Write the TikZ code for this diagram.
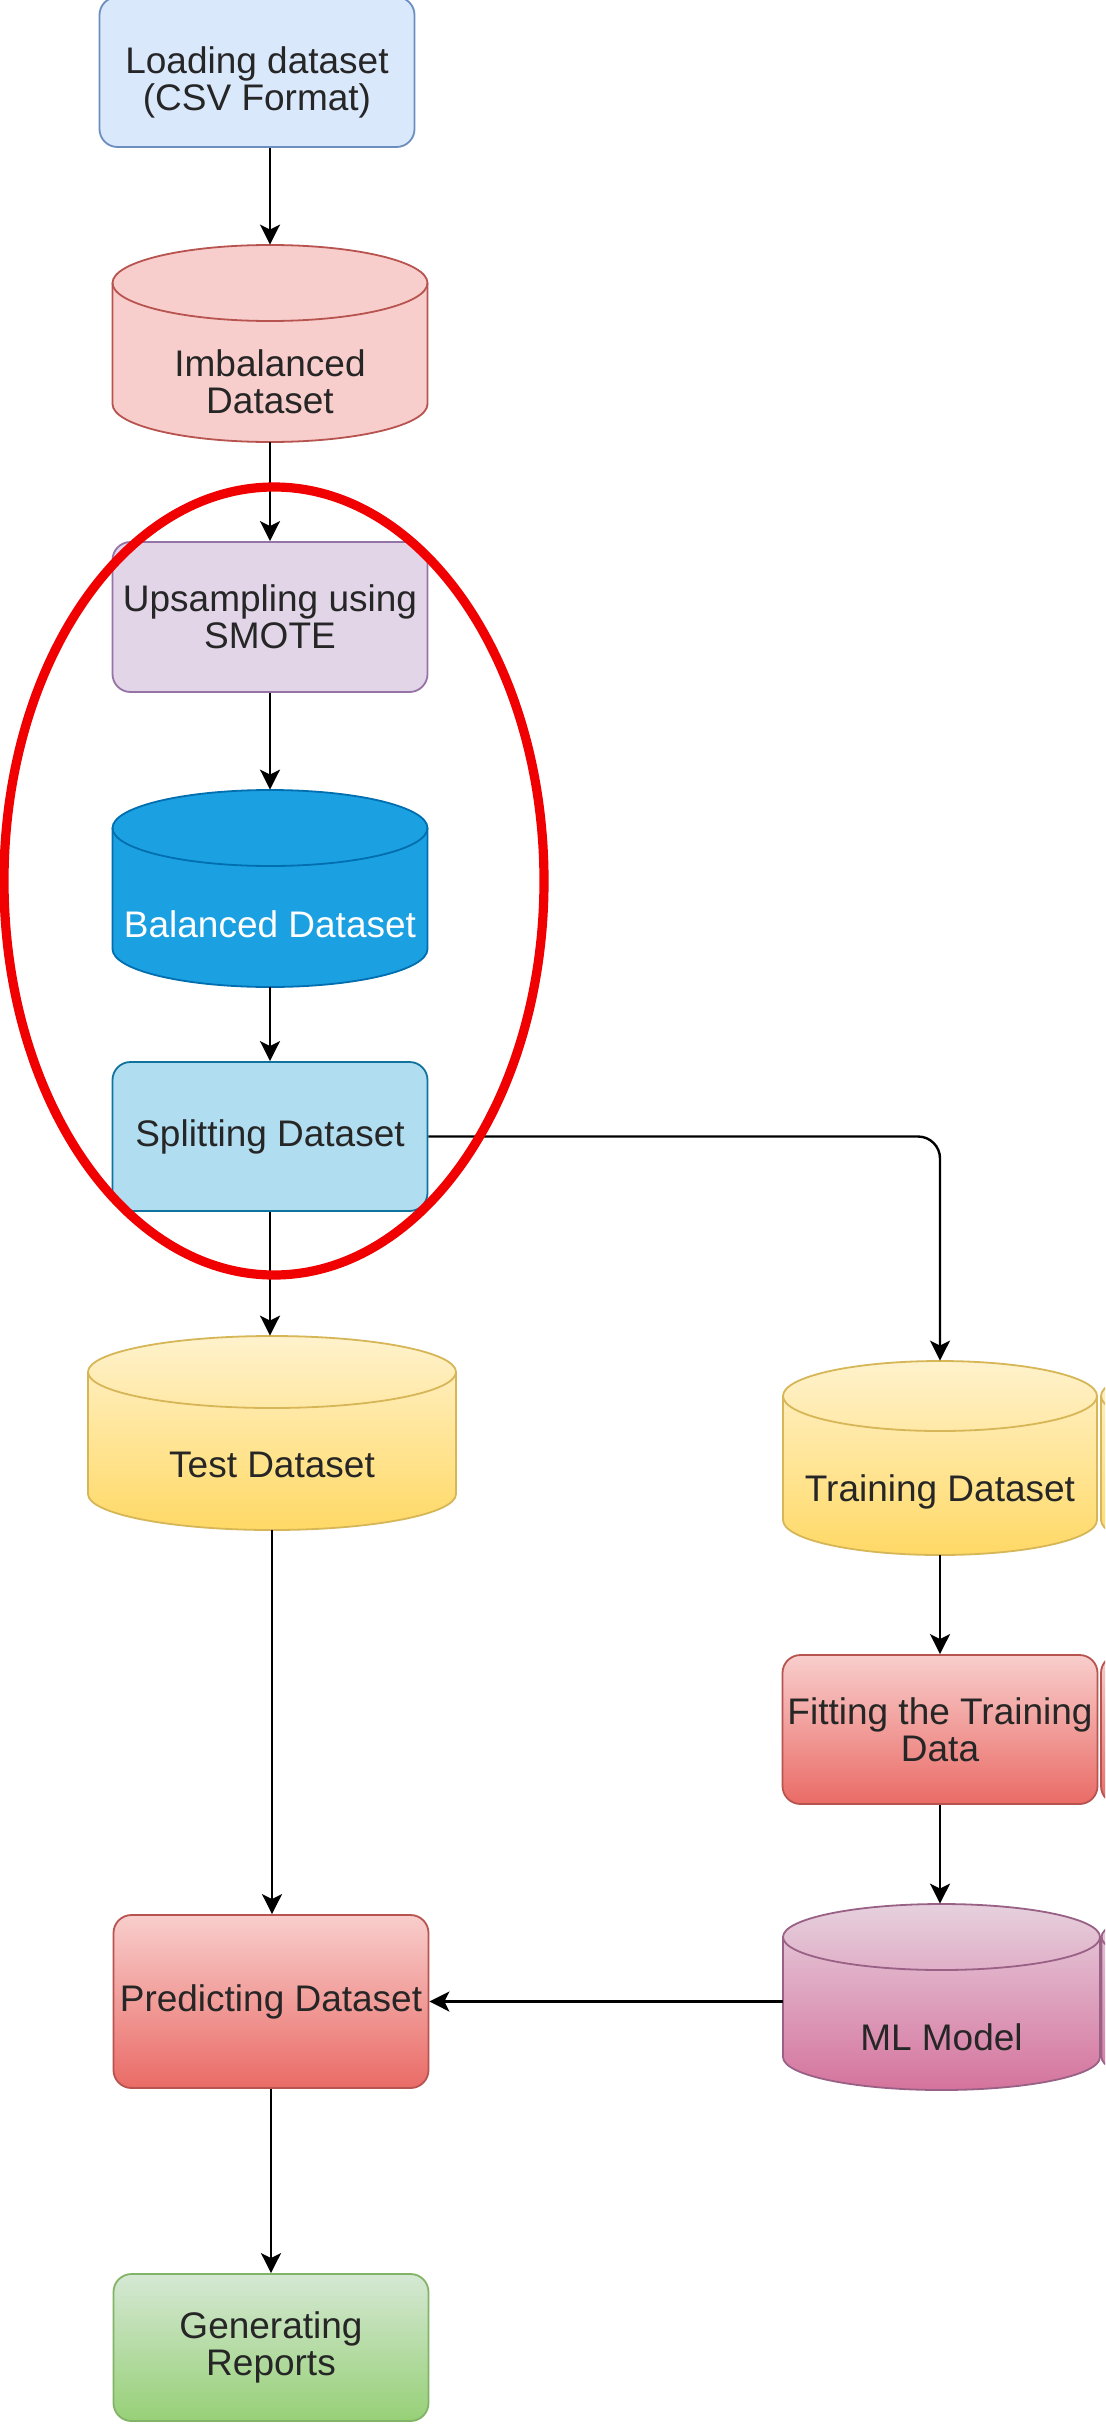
\documentclass[tikz,border=0pt]{standalone}
\usepackage{fontspec}
\setmainfont{Liberation Sans}
\usetikzlibrary{arrows.meta,calc}
\definecolor{txtc}{HTML}{262626}
\definecolor{loadfill}{HTML}{DAE8FC}\definecolor{loaddraw}{HTML}{6C8EBF}
\definecolor{imbfill}{HTML}{F8CECC}\definecolor{imbdraw}{HTML}{B85450}
\definecolor{upsfill}{HTML}{E1D5E7}\definecolor{upsdraw}{HTML}{9673A6}
\definecolor{balfill}{HTML}{1BA1E2}\definecolor{baldraw}{HTML}{006EAF}
\definecolor{splfill}{HTML}{B1DDF0}\definecolor{spldraw}{HTML}{10739E}
\definecolor{yeltop}{HTML}{FFF2CC}\definecolor{yelbot}{HTML}{FFD966}\definecolor{yeldraw}{HTML}{D6B656}
\definecolor{redtop}{HTML}{F8CECC}\definecolor{redbot}{HTML}{EA6B66}\definecolor{reddraw}{HTML}{B85450}
\definecolor{mltop}{HTML}{E6D0DE}\definecolor{mlbot}{HTML}{D5739D}\definecolor{mldraw}{HTML}{996185}
\definecolor{gentop}{HTML}{D5E8D4}\definecolor{genbot}{HTML}{97D077}\definecolor{gendraw}{HTML}{82B366}
\definecolor{ringred}{HTML}{F00000}
% cx, cy, w, h, ry (px), fill style, draw colour
\newcommand{\drawcyl}[7]{%
  \pgfmathsetmacro\cylXl{#1-#3/2}%
  \pgfmathsetmacro\cylXr{#1+#3/2}%
  \pgfmathsetmacro\cylYt{#2-#4/2+#5}%
  \pgfmathsetmacro\cylYb{#2+#4/2-#5}%
  \pgfmathsetmacro\cylRx{#3/4}%
  \pgfmathsetmacro\cylRy{#5/2}%
  \path[#6,draw=#7,line width=0.9pt] (\cylXl,\cylYt) -- (\cylXl,\cylYb)
    arc[start angle=180,end angle=360,x radius=\cylRx pt,y radius=\cylRy pt]
    -- (\cylXr,\cylYt)
    arc[start angle=0,end angle=180,x radius=\cylRx pt,y radius=\cylRy pt] -- cycle;
  \draw[draw=#7,line width=0.9pt] (\cylXl,\cylYt)
    arc[start angle=180,end angle=360,x radius=\cylRx pt,y radius=\cylRy pt];
}
\tikzset{
  labfont/.style={font=\fontsize{18.5}{18.5}\selectfont, text=txtc},
  boxnode/.style={draw, line width=0.9pt, rounded corners=9pt, minimum width=157.5pt,
    inner sep=0pt, align=center, labfont},
  cylnode/.style={rectangle, inner sep=0pt, minimum width=157.5pt},
  cyltext/.style={align=center, inner sep=0pt, labfont},
  arr/.style={draw=black, line width=1.2pt, -{Stealth[length=10pt,width=10pt,inset=2.5pt]}},
}
\begin{document}
\begin{tikzpicture}[x=0.5pt,y=-0.5pt]
\useasboundingbox (0,0) rectangle (1105,2424);
\fill[white] (0,0) rectangle (1105,2424);

% partially visible shapes at the right edge
\begin{scope}
\clip (0,0) rectangle (1105,2424);
\drawcyl{1258}{1458}{314}{194}{35}{top color=yeltop,bottom color=yelbot}{yeldraw}
\path[top color=redtop,bottom color=redbot,draw=reddraw,line width=0.9pt,rounded corners=9pt] (1101,1655) rectangle (1415,1804);
\drawcyl{1260}{1997}{317}{186}{33}{top color=mltop,bottom color=mlbot}{mldraw}
\end{scope}

% left column
\node[boxnode, fill=loadfill, draw=loaddraw, minimum height=75pt,
  label={[cyltext,yshift=-5pt]center:Loading dataset\\(CSV Format)}] (load) at (257,72) {};

\drawcyl{270}{343.5}{315}{197}{38}{fill=imbfill}{imbdraw}
\node[cylnode, minimum height=98.5pt, label={[cyltext,yshift=-19pt]center:Imbalanced\\Dataset}] (imb) at (270,343.5) {};

\node[boxnode, fill=upsfill, draw=upsdraw, minimum height=75pt] (ups) at (270,617) {Upsampling using\\SMOTE};

\drawcyl{270}{888.5}{315}{197}{38}{fill=balfill}{baldraw}
\node[cylnode, minimum height=98.5pt, label={[cyltext,text=white,yshift=-18pt]center:Balanced Dataset}] (bal) at (270,888.5) {};

\node[boxnode, fill=splfill, draw=spldraw, minimum height=74.5pt] (split) at (270,1136.5) {Splitting Dataset};

\drawcyl{272}{1433}{368}{194}{36}{top color=yeltop,bottom color=yelbot}{yeldraw}
\node[cylnode, minimum width=184pt, minimum height=97pt, label={[cyltext,yshift=-16pt]center:Test Dataset}] (test) at (272,1433) {};

\node[boxnode, top color=redtop, bottom color=redbot, draw=reddraw, minimum height=86.5pt] (pred) at (271,2001.5) {Predicting Dataset};

\node[boxnode, top color=gentop, bottom color=genbot, draw=gendraw, minimum height=73.5pt] (gen) at (271,2347.5) {Generating\\Reports};

% right column
\drawcyl{940}{1458}{314}{194}{35}{top color=yeltop,bottom color=yelbot}{yeldraw}
\node[cylnode, minimum height=97pt, label={[cyltext,yshift=-17pt]center:Training Dataset}] (train) at (940,1458) {};

\node[boxnode, top color=redtop, bottom color=redbot, draw=reddraw, minimum height=74.5pt] (fit) at (940,1729.5) {Fitting the Training\\Data};

\drawcyl{941.5}{1997}{317}{186}{33}{top color=mltop,bottom color=mlbot}{mldraw}
\node[cylnode, minimum width=158.5pt, minimum height=93pt, label={[cyltext,yshift=-20pt]center:ML Model}] (ml) at (941.5,1997) {};

% connectors
\draw[arr] (imb.north |- load.south) -- (imb.north);
\draw[arr] (imb.south) -- (ups.north);
\draw[arr] (ups.south) -- (bal.north);
\draw[arr] (bal.south) -- (split.north);
\draw[arr] (split.south) -- (split.south |- test.north);
\draw[arr, rounded corners=11pt] (split.east) -- (train.north |- split.east) -- (train.north);
\draw[arr] (test.south) -- (test.south |- pred.north);
\draw[arr] (train.south) -- (fit.north);
\draw[arr] (fit.south) -- (fit.south |- ml.north);
\draw[arr] (ml.west |- pred.east) -- (pred.east);
\draw[arr] (pred.south) -- (gen.north);

% red highlight ring
\draw[ringred, line width=4.6pt] (274,881) ellipse [x radius=135pt, y radius=197pt];
\end{tikzpicture}
\end{document}
